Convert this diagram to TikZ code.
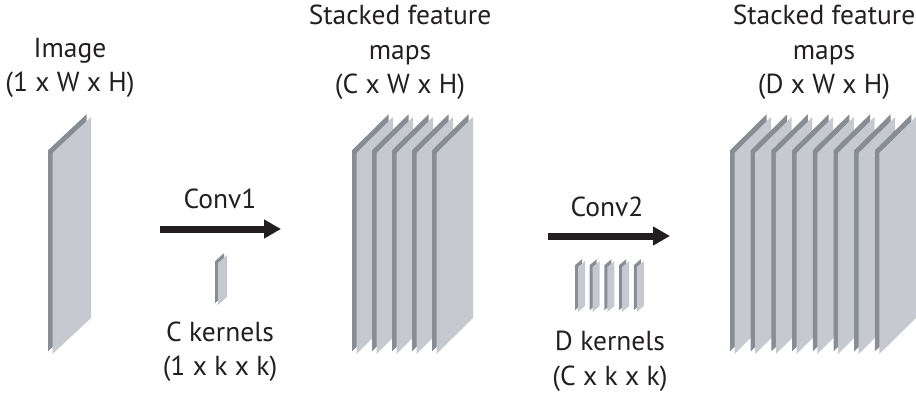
\documentclass[tikz,border=0pt]{standalone}
\usepackage{fontspec}
\setmainfont{PT Sans}
\usetikzlibrary{arrows.meta}
\definecolor{faceC}{HTML}{C6C9D0}
\definecolor{edgeC}{HTML}{878D93}
\definecolor{inkC}{HTML}{231F20}

% one thin slab: #1 left x, #2 top of the front edge, #3 width,
% #4 rise of the top edge, #5 height, #6 thickness of the dark rim
\newcommand{\drawslab}[6]{%
  \fill[edgeC] (#1,#2-0.6*#6) -- ++(#3-#6,-#4) -- ++(0,#5) -- (#1,#2-0.6*#6+#5) -- cycle;
  \fill[faceC] (#1+#6,#2) -- ++(#3-#6,-#4) -- ++(0,#5) -- (#1+#6,#2+#5) -- cycle;
}

\begin{document}
\begin{tikzpicture}[x=1pt,y=-1pt,
  lbl/.style={text=inkC,align=center,inner sep=0pt,
    font=\fontsize{27.5}{34.5}\selectfont},
  flow/.style={draw=inkC,line width=7pt,
    -{Triangle[length=17pt,width=18pt]}}]
\useasboundingbox (0,0) rectangle (916,392);

% input image
\drawslab{48}{153}{43}{36}{201}{4.5}

% first stack of feature maps
\foreach \i in {0,...,4}{\drawslab{352+20*\i}{153}{41}{36}{201}{4.5}}

% second stack of feature maps
\foreach \i in {0,...,7}{\drawslab{730+20.7*\i}{153}{41}{36}{201}{4.5}}

% kernels
\drawslab{215}{263}{12}{8}{42}{3}
\foreach \i in {0,...,4}{\drawslab{575+14.7*\i}{267}{10}{6}{45}{3}}

% labels
\node[lbl] (img)  at (70,68)    {Image\\(1 x W x H)};
\node[lbl] (fm1)  at (400,52.5) {Stacked feature\\maps\\(C x W x H)};
\node[lbl] (fm2)  at (824,52.5) {Stacked feature\\maps\\(D x W x H)};
\node[lbl] (c1)   at (220,199)  {Conv1};
\node[lbl] (c2)   at (607,207)  {Conv2};
\node[lbl] (ck)   at (220,351.5) {C kernels\\(1 x k x k)};
\node[lbl] (dk)   at (610,361.5) {D kernels\\(C x k x k)};

% arrows
\coordinate (a1s) at (160,229);
\coordinate (a1e) at (281,229);
\coordinate (a2s) at (548,236);
\coordinate (a2e) at (670,236);
\draw[flow] (a1s) -- (a1e);
\draw[flow] (a2s) -- (a2e);
\end{tikzpicture}
\end{document}
